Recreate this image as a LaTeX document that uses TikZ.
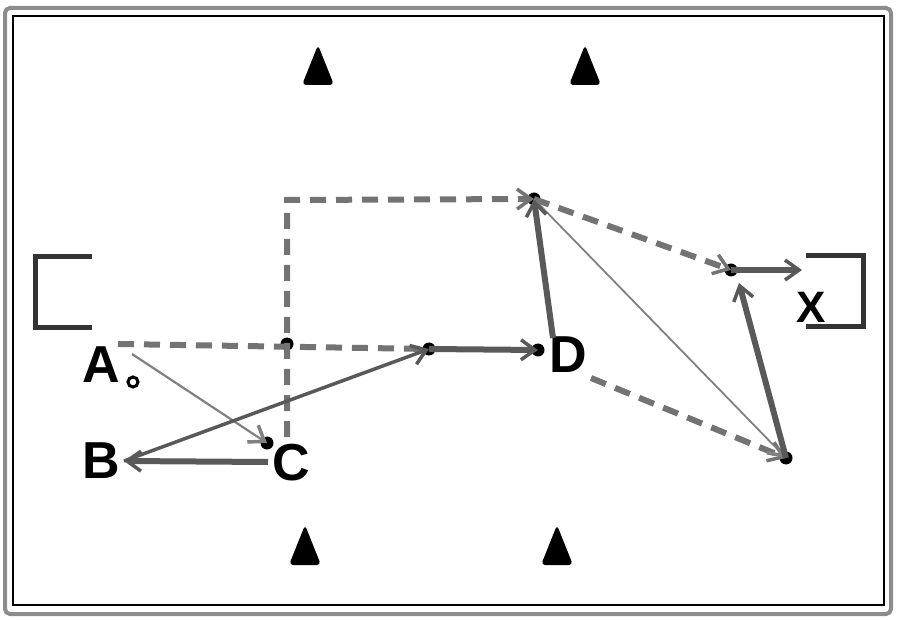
\documentclass[tikz,border=0pt]{standalone}
\usepackage{fontspec}
\setsansfont{Liberation Sans}
\usetikzlibrary{arrows.meta}
\tikzset{
  lbl/.style={font=\sffamily\bfseries\fontsize{52}{52}\selectfont, inner sep=0pt},
  cone/.style={fill=black, rounded corners=4pt},
  goal/.style={draw=black!80, line width=5pt},
  tip/.style={-{Straight Barb[length=14pt,width=20pt,line width=3.5pt]}},
  run/.style={draw=black!55, line width=6pt, dash pattern=on 16pt off 10pt},
  pass/.style={draw=black!65, line width=6pt, tip},
  lob/.style={draw=black!50, line width=2.2pt, tip},
}
\begin{document}
\begin{tikzpicture}[x=1pt,y=-1pt]
\useasboundingbox (0,0) rectangle (900,620);
% field
\draw[black!45, line width=4pt, rounded corners=5pt] (5,8) rectangle (891,614);
\draw[line width=2.5pt] (13,16) rectangle (884,605);

% cones
\fill[cone] (318,45) -- (334,85) -- (302,85) -- cycle;
\fill[cone] (585,45) -- (601,85) -- (569,85) -- cycle;
\fill[cone] (305,525) -- (321,565) -- (289,565) -- cycle;
\fill[cone] (557,525) -- (573,565) -- (541,565) -- cycle;

% goals
\draw[goal] (92,257) -- (35,257) -- (35,328) -- (92,328);
\draw[goal] (806,256) -- (863,256) -- (863,327) -- (806,327);

% labels
\node[lbl] (labA) at (101,365) {A};
\node[lbl] (labB) at (101,461) {B};
\node[lbl] (labC) at (291,463) {C};
\node[lbl] (labD) at (568,355) {D};
\node[lbl, font=\sffamily\bfseries\fontsize{44}{44}\selectfont] (labX) at (811,307) {X};
\draw[line width=3pt, fill=white] (133,382) circle (5pt);

% spots
\coordinate (a) at (132,354);
\coordinate (b) at (124,461);
\coordinate (c) at (267,443);
\coordinate (cc) at (268,462);
\coordinate (m) at (287,344);
\coordinate (p) at (429,349);
\coordinate (d) at (538,350);
\coordinate (e) at (534,199);
\coordinate (f) at (731,270);
\coordinate (g) at (786,458);
\coordinate (x) at (802,270);
\coordinate (v) at (287,437);
\coordinate (k) at (287,200);

\foreach \s in {c,m,p,d,e,f,g} \fill (\s) circle (6.5pt);

% runs
\draw[run] (118,344) -- (p);
\draw[run, tip] (v) -- (k) -- (e);
\draw[run, tip] (e) -- (f);
\draw[run, tip] (591,378) -- (g);

% passes
\draw[lob] (a) -- (c);
\draw[lob, line width=1.8pt] (e) -- (g);
\draw[pass, line width=3.5pt] (b) -- (p);
\draw[pass] (cc) -- (b);
\draw[pass] (p) -- (d);
\draw[pass] (553,338) -- (e);
\draw[pass] (f) -- (x);
\draw[pass] (g) -- (739,283);
\end{tikzpicture}
\end{document}
